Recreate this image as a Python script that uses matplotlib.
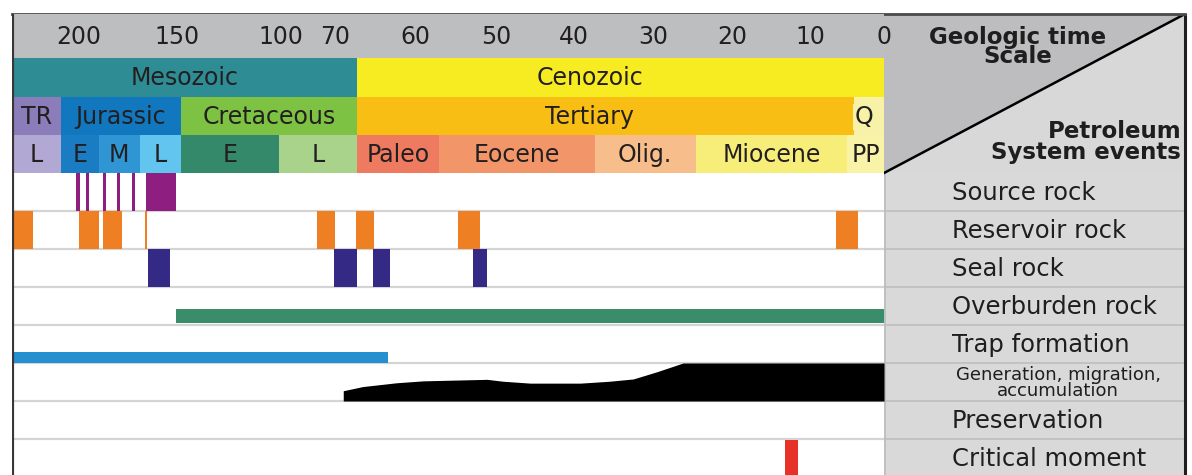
import numpy as np
import matplotlib.pyplot as plt
from matplotlib.patches import Polygon, Rectangle

plt.rcParams['font.family'] = ['DejaVu Sans']

# Non-linear geologic time axis: ages (Ma) and where they sit across the chart
scale_ages = [233, 200, 150, 100, 70, 66, 60, 50, 40, 30, 20, 10, 0]
scale_pos = [12, 79, 177, 281, 335, 357, 415, 496, 574, 653, 732, 810, 884]
tick_ages = [200, 150, 100, 70, 60, 50, 40, 30, 20, 10, 0]

# Geologic time scale
era_names = ['Mesozoic', 'Cenozoic']
era_bounds = [233, 66, 0]
era_colors = ['#2e8c95', '#f7ec22']
era_label_at = [None, 38]

period_names = ['TR', 'Jurassic', 'Cretaceous', 'Tertiary', 'Q']
period_bounds = [233, 209, 148, 66, 4, 0]
period_colors = ['#8b7db9', '#1177bf', '#7dc242', '#f9be14', '#f8f1a8']
period_label_at = [None, None, None, 38, 2.7]

epoch_names = ['L', 'E', 'M', 'L', 'E', 'L', 'Paleo', 'Eocene', 'Olig.',
               'Miocene', 'PP']
epoch_bounds = [233, 209, 190, 169, 148, 101, 66, 57, 37.4, 24.6, 5, 0]
epoch_colors = ['#b2a8d4', '#1a7cc2', '#2f95d3', '#62c5ef', '#35896b',
                '#a9d38b', '#ee7a5f', '#f29669', '#f7bd8b', '#f6ee78',
                '#f8f3a6']

# Petroleum system events
events = ['Source rock', 'Reservoir rock', 'Seal rock', 'Overburden rock',
          'Trap formation', 'Generation, migration,\naccumulation',
          'Preservation', 'Critical moment']

source_from = [201.5, 196.4, 187.8, 180.6, 173.0, 165.8]
source_to = [199.5, 194.9, 186.2, 179.1, 171.4, 150.5]
reservoir_from = [232.7, 200.0, 187.8, 166.3, 80.0, 66.2, 54.7, 6.5]
reservoir_to = [222.8, 189.8, 178.1, 165.3, 70.0, 64.2, 52.0, 3.5]
seal_from = [165.0, 70.6, 64.3, 52.8]
seal_to = [153.6, 66.0, 62.6, 51.1]
overburden = (150.5, 0)
trap = (233, 62.8)
gen_age = [68.5, 68.5, 65.4, 61.9, 59.0, 51.1, 49.1, 45.6, 39.2, 35.5,
           32.5, 29.5, 26.2, 0]
gen_level = [0.0, 0.27, 0.38, 0.48, 0.53, 0.57, 0.52, 0.47, 0.47, 0.52,
             0.58, 0.77, 1.0, 1.0]
critical = (13.2, 11.5)


# age -> negative position, so the scale increases with age
ages_up = np.array(scale_ages[::-1], dtype=float)
pos_up = -np.array(scale_pos[::-1], dtype=float)
order = np.argsort(pos_up)


def fwd(a):
    return np.interp(np.asarray(a, dtype=float), ages_up, pos_up)


def inv(p):
    return np.interp(np.asarray(p, dtype=float), pos_up[order], ages_up[order])


def mid_age(a, b):
    return float(inv((fwd(a) + fwd(b)) / 2))


fig = plt.figure(figsize=(11.92, 4.75), dpi=100)
H = 475
top = 14
ax = fig.add_axes([12 / 1192, 0, 872 / 1192, (H - top) / H])
ax.set_xscale('function', functions=(fwd, inv))
ax.set_xlim(233, 0)
ax.set_ylim(H, top)
ax.axis('off')
ax.set_zorder(3)

# header rows (y in pixels from top)
tick_row = (14, 58)
era_row = (58, 97)
period_row = (97, 135)
epoch_row = (135, 173)
row_h = 38
ev_top = 173

ax.broken_barh([(233, -233)], (tick_row[0], tick_row[1] - tick_row[0]),
               facecolors='#bdbec0')
for t in tick_ages:
    ax.text(t, 37, str(t), ha='center', va='center', fontsize=17,
            color='#231f20', clip_on=False)


def band_row(names, bounds, colors, label_at, row):
    y0, y1 = row
    for i, name in enumerate(names):
        a, b = bounds[i], bounds[i + 1]
        ax.broken_barh([(a, b - a)], (y0, y1 - y0), facecolors=colors[i],
                       edgecolors='none')
        x = mid_age(a, b)
        if label_at is not None and label_at[i] is not None:
            x = label_at[i]
        bbox = None
        if name == 'Q':
            bbox = dict(boxstyle='square,pad=0.05', fc=colors[i], ec='none')
        ax.text(x, (y0 + y1) / 2 + 1, name, ha='center', va='center',
                fontsize=17, color='#231f20', bbox=bbox)


band_row(era_names, era_bounds, era_colors, era_label_at, era_row)
band_row(period_names, period_bounds, period_colors, period_label_at,
         period_row)
band_row(epoch_names, epoch_bounds, epoch_colors, None, epoch_row)

# event rows
row_lines = [ev_top + row_h * i for i in range(len(events) + 1)]
ax.hlines(row_lines[1:], 233, 0, color='#d4d4d4', lw=1.6, zorder=1)


def draw_bars(starts, ends, row, color, f0=0.0, f1=1.0):
    y0 = ev_top + row * row_h + f0 * row_h
    spans = [(s, e - s) for s, e in zip(starts, ends)]
    ax.broken_barh(spans, (y0, (f1 - f0) * row_h), facecolors=color,
                   edgecolors='none', zorder=2)


draw_bars(source_from, source_to, 0, '#8e1f80')
draw_bars(reservoir_from, reservoir_to, 1, '#ee8023')
draw_bars(seal_from, seal_to, 2, '#342a86')
draw_bars([overburden[0]], [overburden[1]], 3, '#3b8c6a', 0.58, 0.95)
draw_bars([trap[0]], [trap[1]], 4, '#2490d0', 0.70, 1.0)
gen_bottom = ev_top + 6 * row_h
ax.fill_between(gen_age, gen_bottom,
                gen_bottom - np.array(gen_level) * row_h,
                color='black', lw=0, zorder=2)
draw_bars([critical[0]], [critical[1]], 7, '#e7322a', 0.03, 1.05)

# left border
ax.axvline(233, color='#3a3536', lw=3, zorder=5)

# right hand panel with event names
px = fig.add_axes([884 / 1192, 0, 308 / 1192, (H - top) / H])
px.set_xlim(884, 1192)
px.set_ylim(H, top)
px.axis('off')
px.set_zorder(1)
right = 1185
px.add_patch(Polygon([(884, 14), (right, 14), (884, 173)], closed=True,
                     fc='#bdbdbf', ec='none'))
px.add_patch(Polygon([(right, 14), (right, 173), (884, 173)], closed=True,
                     fc='#d8d8d8', ec='none'))
px.add_patch(Rectangle((884, 173), right - 884, H - 173, fc='#d9d9d9',
                       ec='none'))
px.plot([884, right], [173, 14], color='black', lw=1.8, zorder=4)
px.hlines(row_lines[1:], 884, right, color='#c2c2c2', lw=1.4)
px.axvline(885, ymin=0, ymax=(H - 173) / (H - top), color='#bcbcbc', lw=1.2)
px.plot([right, right], [14, H], color='#1e1e1e', lw=2.2, zorder=5)

px.text(1018, 47, 'Geologic time\nScale', ha='center', va='center',
        fontsize=16.5, fontweight='bold', linespacing=0.82, color='#1e1e1e')
px.text(1181, 142, 'Petroleum\nSystem events', ha='right', va='center',
        multialignment='right', fontsize=16.5, fontweight='bold',
        linespacing=0.92, color='#1e1e1e')

for i, name in enumerate(events):
    yc = ev_top + row_h * (i + 0.5)
    if '\n' in name:
        px.text(1058, yc + 1, name, ha='center', va='center', fontsize=13,
                linespacing=0.8, color='#1e1e1e')
    else:
        px.text(952, yc + 1, name, ha='left', va='center', fontsize=17.5,
                color='#1e1e1e')

# top border
fig.add_artist(plt.Line2D([12 / 1192, right / 1192],
                          [(H - 14) / H, (H - 14) / H],
                          color='#4a4a4a', lw=2))

fig.savefig('out.png', dpi=100)
